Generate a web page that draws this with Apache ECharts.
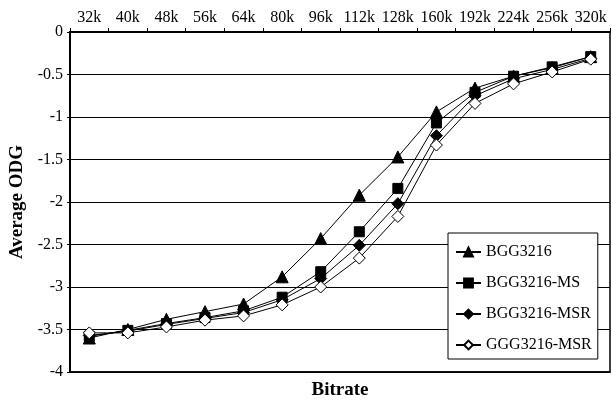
<!DOCTYPE html>
<html><head><meta charset="utf-8">
<script src="https://cdn.jsdelivr.net/npm/echarts@6/dist/echarts.min.js"></script>
<style>html,body{margin:0;padding:0;background:#fff}#c{width:612px;height:402px}</style>
</head><body><div id="c"></div>
<script>
const categories = ['32k','40k','48k','56k','64k','80k','96k','112k','128k','160k','192k','224k','256k','320k'];
const bgg3216    = [-3.60,-3.50,-3.38,-3.29,-3.20,-2.88,-2.43,-1.92,-1.47,-0.94,-0.66,-0.52,-0.42,-0.29];
const bggMS      = [-3.58,-3.51,-3.43,-3.36,-3.28,-3.12,-2.82,-2.35,-1.84,-1.07,-0.71,-0.52,-0.41,-0.29];
const bggMSR     = [-3.57,-3.52,-3.44,-3.37,-3.30,-3.15,-2.90,-2.51,-2.02,-1.22,-0.75,-0.55,-0.44,-0.31];
const gggMSR     = [-3.54,-3.54,-3.47,-3.39,-3.34,-3.21,-3.00,-2.66,-2.17,-1.33,-0.84,-0.61,-0.47,-0.32];
const yTicks = { min: -4, max: 0, step: 0.5 };

const font = 'Liberation Serif';
function mk(name, data, symbol, size, fill) {
  return {
    name, type: 'line', data, symbol, symbolSize: size, xAxisIndex: 0,
    lineStyle: { color: '#000', width: 1 },
    itemStyle: { color: fill, borderColor: '#000', borderWidth: 1 },
    emphasis: { disabled: true }, animation: false, z: 3
  };
}
const chart = echarts.init(document.getElementById('c'), null, { renderer: 'canvas' });
chart.setOption({
  animation: false,
  backgroundColor: '#fff',
  grid: { left: 70, right: 2, top: 32, bottom: 30, containLabel: false, outerBoundsMode: 'none',
          show: true, borderColor: '#000', borderWidth: 1.5, backgroundColor: 'transparent' },
  xAxis: [{
    type: 'category', data: categories, position: 'top', boundaryGap: true,
    axisLine: { lineStyle: { color: '#000', width: 2 } },
    axisTick: { show: true, inside: false, length: 4, interval: 0, lineStyle: { color: '#000' } },
    axisLabel: { fontFamily: font, fontSize: 16, color: '#000', margin: 6, interval: 0, hideOverlap: false },
    splitLine: { show: false }
  }, {
    type: 'category', data: categories, position: 'bottom', boundaryGap: true,
    name: 'Bitrate', nameLocation: 'middle', nameGap: 9,
    nameTextStyle: { fontFamily: font, fontWeight: 'bold', fontSize: 19, color: '#000' },
    axisLine: { show: true, lineStyle: { color: '#000', width: 1.5 } },
    axisTick: { show: false }, axisLabel: { show: false }, splitLine: { show: false }
  }],
  yAxis: {
    type: 'value', min: yTicks.min, max: yTicks.max, interval: yTicks.step,
    name: 'Average ODG', nameLocation: 'middle', nameGap: 42, nameRotate: 90,
    nameTextStyle: { fontFamily: font, fontWeight: 'bold', fontSize: 19, color: '#000' },
    axisLine: { show: true, lineStyle: { color: '#000', width: 2 } },
    axisTick: { show: true, length: 3, lineStyle: { color: '#000' } },
    axisLabel: { fontFamily: font, fontSize: 16, color: '#000', margin: 7 },
    splitLine: { show: true, lineStyle: { color: '#000', width: 1 } }
  },
  legend: {
    orient: 'vertical', left: 448, top: 233,
    backgroundColor: '#fff', borderColor: '#000', borderWidth: 1, borderRadius: 0,
    padding: [11, 6, 6, 7], itemGap: 15, itemWidth: 25, itemHeight: 11,
    textStyle: { fontFamily: font, fontSize: 16, color: '#000' },
    data: ['BGG3216','BGG3216-MS','BGG3216-MSR','GGG3216-MSR']
  },
  series: [
    mk('BGG3216', bgg3216, 'triangle', 12, '#000'),
    mk('BGG3216-MS', bggMS, 'rect', 10, '#000'),
    mk('BGG3216-MSR', bggMSR, 'diamond', 12, '#000'),
    mk('GGG3216-MSR', gggMSR, 'diamond', 12, '#fff')
  ]
});
</script></body></html>
